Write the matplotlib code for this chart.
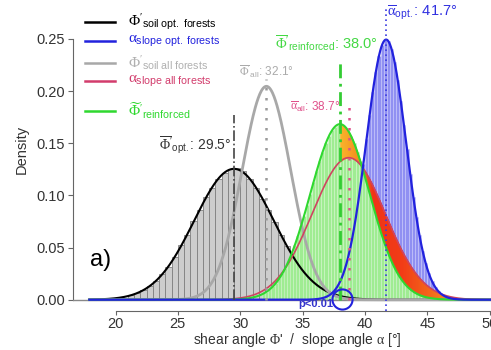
import numpy as np
import matplotlib
matplotlib.use('Agg')
import matplotlib.pyplot as plt
from matplotlib.colors import LinearSegmentedColormap

plt.rcParams['font.family'] = 'Liberation Sans'
plt.rcParams['mathtext.fontset'] = 'custom'
plt.rcParams['mathtext.rm'] = 'Liberation Serif'
plt.rcParams['mathtext.it'] = 'Liberation Serif'
plt.rcParams['mathtext.sf'] = 'Liberation Sans'
plt.rcParams['mathtext.bf'] = 'Liberation Sans:bold'

# fitted normal curves (mean, sd)
phi_opt_mean, phi_opt_sd = 29.5, 3.18      # soil, optimal forests
phi_all_mean, phi_all_sd = 32.1, 1.95      # soil, all forests
alpha_opt_mean, alpha_opt_sd = 41.7, 1.60  # slope, optimal forests
alpha_all_mean, alpha_all_sd = 38.7, 2.93  # slope, all forests
phi_reinf_mean, phi_reinf_sd = 38.0, 2.37  # reinforced

# histograms (first bin edge, bin width, bar heights)
phi_opt_start, phi_opt_width = 21.0, 0.5
phi_opt_hist = [0.0045, 0.0068, 0.0098, 0.0135, 0.0180, 0.0245, 0.0315, 0.0405,
                0.0520, 0.0620, 0.0750, 0.0860, 0.0985, 0.1070, 0.1160, 0.1215,
                0.1250, 0.1262, 0.1235, 0.1160, 0.1070, 0.0970, 0.0860, 0.0745,
                0.0625, 0.0515, 0.0415, 0.0325, 0.0245]

alpha_opt_start, alpha_opt_width = 36.5, 0.25
alpha_opt_hist = [0.0016, 0.0026, 0.0042, 0.0065, 0.0097, 0.0143, 0.0205, 0.0288,
                  0.0393, 0.0525, 0.0683, 0.0867, 0.1075, 0.1300, 0.1536, 0.1769,
                  0.1989, 0.2183, 0.2337, 0.2442, 0.2490, 0.2478, 0.2407, 0.2281,
                  0.2109, 0.1904, 0.1677, 0.1441, 0.1209, 0.0989, 0.0791, 0.0616,
                  0.0469, 0.0348, 0.0252, 0.0178, 0.0123, 0.0083, 0.0054, 0.0035]

phi_reinf_start, phi_reinf_width = 31.75, 0.25
phi_reinf_hist = [0.0060, 0.0078, 0.0101, 0.0130, 0.0163, 0.0204, 0.0252, 0.0307,
                  0.0371, 0.0443, 0.0523, 0.0611, 0.0706, 0.0807, 0.0912, 0.1018,
                  0.1125, 0.1230, 0.1329, 0.1420, 0.1502, 0.1570, 0.1623, 0.1659,
                  0.1678, 0.1678, 0.1659, 0.1623, 0.1570, 0.1502, 0.1420, 0.1329,
                  0.1230, 0.1125, 0.1018, 0.0912, 0.0807, 0.0706, 0.0611, 0.0523,
                  0.0443, 0.0371, 0.0307, 0.0252, 0.0204, 0.0163, 0.0130, 0.0101,
                  0.0078, 0.0060, 0.0046, 0.0034, 0.0025]


def normal(x, m, s):
    return np.exp(-0.5 * ((x - m) / s) ** 2) / (s * np.sqrt(2 * np.pi))


def centers(start, width, heights):
    return start + width * (np.arange(len(heights)) + 0.5)


fig = plt.figure(figsize=(4.91, 3.5), dpi=100)
ax = fig.add_axes([73 / 491, 39 / 350, 418 / 491, 311 / 350])
ax.set_xlim(16.59, 50.11)
ax.set_ylim(-0.0108, 0.2873)

# histograms
ax.bar(centers(phi_opt_start, phi_opt_width, phi_opt_hist), phi_opt_hist,
       width=phi_opt_width, color='#cdcdcd', edgecolor='#808080', lw=0.6, zorder=1)
ax.bar(centers(alpha_opt_start, alpha_opt_width, alpha_opt_hist), alpha_opt_hist,
       width=alpha_opt_width, color='#9090f2', edgecolor='#c8c8fb', lw=0.4, zorder=2)
ax.bar(centers(phi_reinf_start, phi_reinf_width, phi_reinf_hist), phi_reinf_hist,
       width=phi_reinf_width, color='#9fec92', edgecolor='#d2f7cb', lw=0.4, zorder=3)

x = np.linspace(17.9, 50.5, 800)
y_green = normal(x, phi_reinf_mean, phi_reinf_sd)
y_red = normal(x, alpha_all_mean, alpha_all_sd)

# gradient band between reinforced and slope (all forests) curves
cmap = LinearSegmentedColormap.from_list(
    'band', [(0.0, '#f9b52c'), (0.14, '#f58a1c'), (0.24, '#f03418'),
             (0.45, '#f23c16'), (0.65, '#f4661a'), (0.85, '#f7a41e'), (1.0, '#f8d82a')])
x0, x1 = phi_reinf_mean, 49.0
mask = (x >= x0) & (x <= x1)
xs, g, r = x[mask], y_green[mask], y_red[mask]
for i in range(len(xs) - 1):
    c = cmap((xs[i] - x0) / (x1 - x0))
    ax.fill_between(xs[i:i + 2], g[i:i + 2], r[i:i + 2], facecolor=c, edgecolor=c,
                    lw=0.4, zorder=4)

ax.axhline(0, color='#888888', lw=1.0, zorder=4)

# fitted curves
ax.plot(x, normal(x, phi_opt_mean, phi_opt_sd), color='black', lw=1.5, zorder=6)
ax.plot(x, normal(x, phi_all_mean, phi_all_sd), color='#a8a8a8', lw=2.0, zorder=6)
ax.plot(x, y_red, color='#cf4460', lw=1.2, zorder=6)
ax.plot(x, y_green, color='#2fd82f', lw=1.5, zorder=6)
ax.plot(x, normal(x, alpha_opt_mean, alpha_opt_sd), color='#2222dd', lw=1.6, zorder=7)

# mean lines
ax.vlines(phi_opt_mean, 0, 0.177, colors='#444444', linestyles='-.', lw=1.2, zorder=8)
ax.vlines(phi_all_mean, 0, 0.212, colors='#9a9a9a', linestyles=(0, (1, 3)), lw=1.8, zorder=8)
ax.vlines(phi_reinf_mean, 0, 0.227, colors='#33cc33', linestyles=(0, (5, 2, 1, 2)), lw=2.0, zorder=8)
ax.vlines(alpha_all_mean, 0, 0.19, colors='#e0508a', linestyles=(0, (1, 3)), lw=1.8, zorder=8)
ax.vlines(alpha_opt_mean, -0.011, 0.282, colors='#3a3ae0', linestyles=(0, (1, 2)), lw=1.2,
          zorder=8, clip_on=False)

# mean labels
ax.text(29.3, 0.148, r"$\overline{\Phi}'_{\mathsf{opt.}}$: 29.5°", color='#333333',
        fontsize=10, ha='right', va='center', zorder=9)
ax.text(32.1, 0.219, r"$\overline{\Phi}'_{\mathsf{all}}$: 32.1°", color='#aaaaaa',
        fontsize=8.5, ha='center', va='center', zorder=9)
ax.text(41.05, 0.246, r"$\overline{\Phi}'_{\mathsf{reinforced}}$: 38.0°", color='#44d844',
        fontsize=10.5, ha='right', va='center', zorder=9)
ax.text(38.0, 0.185, r"$\overline{\alpha}_{\mathsf{all}}$: 38.7°", color='#e0508a',
        fontsize=8.5, ha='right', va='center', zorder=9)
ax.text(41.8, 0.275, r"$\overline{\alpha}_{\mathsf{opt.}}$: 41.7°", color='#3030e0',
        fontsize=10.5, ha='left', va='center', zorder=9)

# significance marker
ax.plot(38.14, 0.0007, 'o', ms=14.5, mfc='none', mec='#2222dd', mew=1.5, zorder=9, clip_on=False)
ax.text(37.47, -0.0042, 'p<0.01', color='#3333cc', fontsize=8, fontweight='bold',
        ha='right', va='center', zorder=9)

ax.text(17.95, 0.038, 'a)', fontsize=17, ha='left', va='center')

# legend drawn by hand in figure pixels
legend_items = [
    (r"$\Phi'_{\mathsf{soil\ opt.\ forests}}$", 'black', 'black', 22),
    (r"$\alpha_{\mathsf{slope\ opt.\ forests}}$", '#2222dd', '#2222dd', 41),
    (r"$\Phi'_{\mathsf{soil\ all\ forests}}$", '#a8a8a8', '#b0b0b0', 63),
    (r"$\alpha_{\mathsf{slope\ all\ forests}}$", '#d23c6c', '#d23c6c', 81),
    (r"$\widetilde{\Phi}'_{\mathsf{reinforced}}$", '#2fd82f', '#2fd82f', 111),
]
for label, lc, tc, ypx in legend_items:
    yf = 1 - ypx / 350
    fig.add_artist(plt.Line2D([85 / 491, 115 / 491], [yf, yf], color=lc, lw=1.8))
    fig.text(128 / 491, yf, label, color=tc, fontsize=11, ha='left', va='center')

# axes in R style
for s in ['top', 'right']:
    ax.spines[s].set_visible(False)
ax.spines['left'].set_bounds(0, 0.25)
ax.spines['bottom'].set_bounds(20, 50)
for s in ['left', 'bottom']:
    ax.spines[s].set_color('#666666')
ax.set_xticks([20, 25, 30, 35, 40, 45, 50])
ax.set_yticks([0, 0.05, 0.10, 0.15, 0.20, 0.25])
ax.set_yticklabels(['0.00', '0.05', '0.10', '0.15', '0.20', '0.25'])
ax.tick_params(axis='y', length=3.6, pad=2, labelsize=10.5, color='#666666', labelcolor='#333333')
ax.tick_params(axis='x', length=3, pad=1, labelsize=10.5, color='#666666', labelcolor='#333333')

ax.set_ylabel('Density', fontsize=10.5, color='#333333')
ax.yaxis.set_label_coords(-0.105, 0.52)
ax.set_xlabel(r"shear angle $\Phi$'  /  slope angle $\alpha$ [°]", fontsize=10,
              color='#333333')
ax.xaxis.set_label_coords(0.536, -0.094)
ax.xaxis.label.set_va('center')

fig.savefig('out.png', dpi=100)
